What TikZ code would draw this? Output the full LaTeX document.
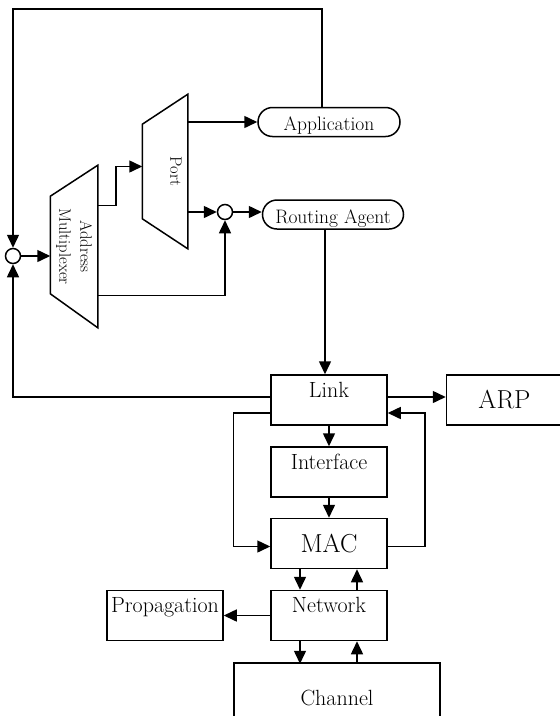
\documentclass[tikz,border=0pt]{standalone}
\usetikzlibrary{arrows.meta, positioning}

\begin{document}
\begin{tikzpicture}[
        x = 1pt, y = -1pt, line width = 1.5pt,
        node distance = 72pt, on grid,
        >= {Triangle[length = 13pt, width = 12pt]},
        box/.style = {draw, minimum width = 116pt, minimum height = 50pt, inner sep = 0pt, font = \fontsize{22}{26}\selectfont},
        topbox/.style = {box, text height = 15pt, text depth = 21pt, inner ysep = 7pt},
        bigbox/.style = {box, font = \fontsize{26}{30}\selectfont},
        pill/.style = {draw, rounded corners = 14.5pt, minimum height = 29pt, inner xsep = 0pt, inner ysep = 2pt, text height = 21pt, text depth = 4pt, font = \fontsize{19.5}{22}\selectfont},
        junction/.style = {draw, circle, minimum size = 15pt, inner sep = 0pt},
        side text/.style = {rotate = -90, align = center, font = \fontsize{16.5}{21}\selectfont}
    ]
      \useasboundingbox (0,0) rectangle (560,716);

      % upper half: multiplexer, port and agents
      \node[junction] (j_mux) at (13,256) {};
      \node[minimum width = 46pt, minimum height = 161pt, label = {[side text]center:Address\\Multiplexer}] (mux) at (74,246.5) {};
      \node[minimum width = 44pt, minimum height = 153pt, label = {[xshift = 11pt, side text]center:Port}] (port) at (165,171.5) {};
      \node[junction] (j_port) at (225,212) {};
      \node[pill, minimum width = 142pt] (app) at (329,122) {Application};
      \node[pill, minimum width = 141pt] (route) at (333,214.5) {Routing Agent};
      \coordinate (loop_top) at (13,9);

      \draw (mux.north east) -- (mux.south east) -- ([yshift = 34pt]mux.south west) -- ([yshift = -31pt]mux.north west) -- cycle;
      \draw (port.north east) -- (port.south east) -- ([yshift = 30pt]port.south west) -- ([yshift = -30pt]port.north west) -- cycle;

      % lower half: the stack
      \node[topbox] (link) at (329,400) {Link};
      \node[bigbox] (arp) [right = 175.5pt of link] {ARP};
      \node[topbox] (iface) [below = of link] {Interface};
      \node[bigbox] (mac) [below = 71.5pt of iface] {MAC};
      \node[topbox] (net) [below = of mac] {Network};
      \node[topbox] (prop) [left = 164pt of net] {Propagation};
      \node[box, minimum width = 206pt, minimum height = 70pt] (chan) [below right = 82.5pt and 8pt of net] {Channel};

      \draw[->] ([xshift = -7pt]app.north) |- (loop_top) -- (j_mux);
      \draw[->] ([yshift = 3pt]link.west) -| (j_mux);
      \draw[->] ([yshift = 41pt]mux.east) -- ++(18,0) |- ([yshift = 5pt]port.west);
      \draw[->] ([yshift = -49pt]mux.east) -| (j_port);
      \draw[->] ([yshift = -13pt]link.west) -- ++(-37,0) |- ([yshift = -3pt]mac.west);
      \draw[->] ([yshift = -3pt]mac.east) -- ++(37,0) |- ([yshift = -13pt]link.east);
      \draw[->] ([xshift = -29pt]net.south) -- ++(0,22.5);
      \draw[<-] ([xshift = 28pt]net.south) -- ++(0,22.5);

      \path[->]
        (j_mux) edge (j_mux -| mux.west)
        (app.west -| port.east) edge (app.west)
        (j_port -| port.east) edge (j_port)
        (j_port) edge (j_port -| route.west)
        ([xshift = -8pt]route.south) edge ([xshift = -4pt]link.north)
        ([yshift = 3pt]link.east) edge ([yshift = 3pt]arp.west)
        (link) edge (iface)
        (iface) edge (mac)
        ([xshift = -29pt]mac.south) edge ([xshift = -29pt]net.north)
        ([xshift = 28pt]net.north) edge ([xshift = 28pt]mac.south)
        (net) edge (prop);
    \end{tikzpicture}
\end{document}
